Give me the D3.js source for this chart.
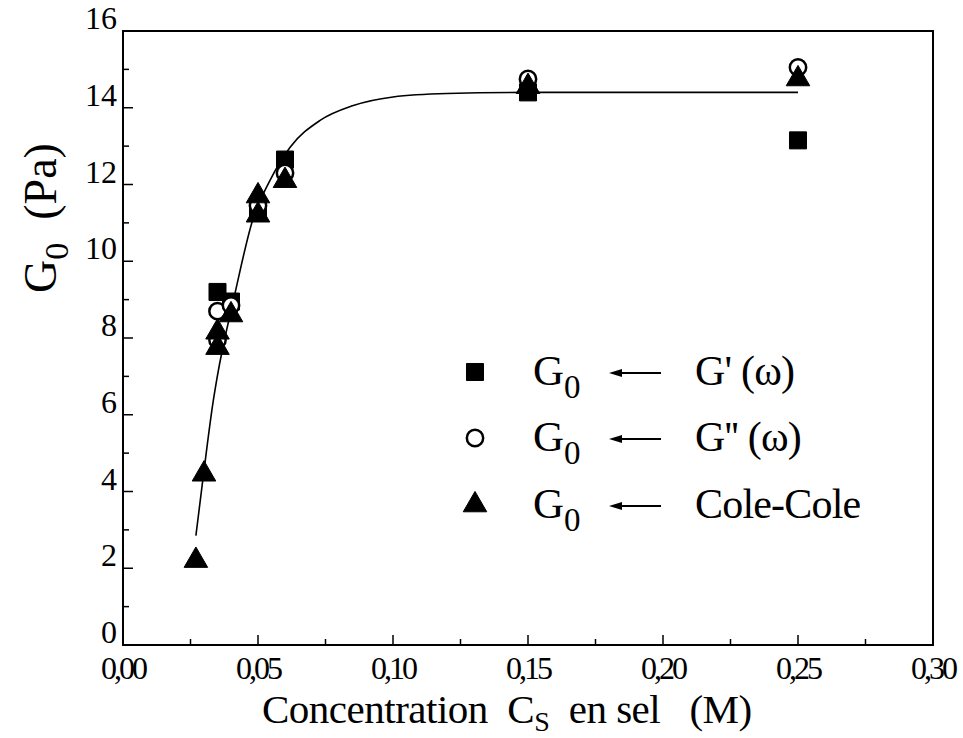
<!DOCTYPE html>
<html><head><meta charset="utf-8">
<script src="https://cdn.jsdelivr.net/npm/d3@7"></script>
<style>body{margin:0;background:#fff}svg{display:block}text{font-family:"Liberation Serif","Times New Roman",serif;fill:#000}</style>
</head><body>
<script>
// Data
const gPrime = [[0.035,9.2],[0.040,8.95],[0.050,11.3],[0.060,12.65],[0.150,14.4],[0.250,13.15]];
const gSecond = [[0.035,8.7],[0.035,7.95],[0.040,8.85],[0.050,11.45],[0.060,12.3],[0.150,14.75],[0.250,15.05]];
const coleCole = [[0.027,2.2],[0.030,4.45],[0.035,8.15],[0.035,7.75],[0.040,8.6],[0.050,11.7],[0.050,11.2],[0.060,12.1],[0.150,14.55],[0.250,14.75]];
const fitCurve = [[0.027,2.85],[0.030,4.55],[0.0334,6.35],[0.0348,6.95],[0.0415,9.17],[0.048,11.07],[0.0544,12.1],[0.0619,12.97],[0.073,13.67],[0.085,14.05],[0.1,14.28],[0.12,14.37],[0.15,14.4],[0.2,14.4],[0.25,14.4]];
const xTicks = [0,0.05,0.10,0.15,0.20,0.25,0.30];
const xTickLabels = ["0,00","0,05","0,10","0,15","0,20","0,25","0,30"];
const yTicks = [0,2,4,6,8,10,12,14,16];
const legendLabels = ["G' (ω)","G'' (ω)","Cole-Cole"];

const W=963,H=738;
const m={l:123,r:933,t:31,b:645};
const svg=d3.select("body").append("svg").attr("width",W).attr("height",H);
const x=d3.scaleLinear().domain([0,0.30]).range([m.l,m.r]);
const y=d3.scaleLinear().domain([0,16]).range([m.b,m.t]);

// frame
svg.append("rect").attr("x",m.l).attr("y",m.t).attr("width",m.r-m.l).attr("height",m.b-m.t)
  .attr("fill","none").attr("stroke","#000").attr("stroke-width",2);

// x axis ticks (inward)
const gx=svg.append("g");
d3.range(0,0.3001,0.025).forEach((v,i)=>{
  const major=i%2===0;
  gx.append("line").attr("x1",x(v)).attr("x2",x(v)).attr("y1",m.b).attr("y2",m.b-(major?10:6)).attr("stroke","#000").attr("stroke-width",1.5);
});
xTicks.forEach((v,i)=>{
  gx.append("text").attr("x",x(v)).attr("y",m.b+34).attr("text-anchor","middle").attr("font-size",32)
    .attr("letter-spacing",-3).text(xTickLabels[i]);
});
// y axis ticks
const gy=svg.append("g");
d3.range(0,16.01,1).forEach((v,i)=>{
  const major=i%2===0;
  gy.append("line").attr("y1",y(v)).attr("y2",y(v)).attr("x1",m.l).attr("x2",m.l+(major?10:6)).attr("stroke","#000").attr("stroke-width",1.5);
});
yTicks.forEach(v=>{
  gy.append("text").attr("x",m.l-6).attr("y",y(v)-2).attr("text-anchor","end").attr("font-size",32).text(v);
});

// axis titles
const xt=svg.append("text").attr("x",262).attr("y",723).attr("font-size",41).attr("letter-spacing",-0.5).attr("xml:space","preserve");
xt.append("tspan").text("Concentration  C");
xt.append("tspan").attr("font-size",28).attr("dy",8).text("S");
xt.append("tspan").attr("dy",-8).text("  en sel   (M)");

const yt=svg.append("text").attr("transform","translate(56,218) rotate(-90)").attr("text-anchor","middle").attr("font-size",46).attr("xml:space","preserve");
yt.append("tspan").text("G");
yt.append("tspan").attr("font-size",34).attr("dy",12).text("0");
yt.append("tspan").attr("dy",-12).text("  (Pa)");

// fit curve
svg.append("path").datum(fitCurve).attr("fill","none").attr("stroke","#000").attr("stroke-width",1.6)
  .attr("d",d3.line().x(d=>x(d[0])).y(d=>y(d[1])).curve(d3.curveMonotoneX));

// markers
const sq=d3.symbol().type(d3.symbolSquare).size(290);
const ci=d3.symbol().type(d3.symbolCircle).size(210);
const tr=d3.symbol().type(d3.symbolTriangle).size(240);
function plot(data,sym,fill,sw){
  svg.append("g").selectAll("path").data(data).join("path")
    .attr("transform",d=>`translate(${x(d[0])},${y(d[1])})`).attr("d",sym)
    .attr("fill",fill).attr("stroke","#000").attr("stroke-width",sw);
}
plot(gPrime,sq,"#000",1);
plot(gSecond,ci,"#fff",2.5);
plot(coleCole,tr,"#000",1);

// legend
const rows=[372,438,505];
const syms=[[sq,"#000",1],[ci,"#fff",2.5],[tr,"#000",1]];
rows.forEach((ry,i)=>{
  svg.append("path").attr("transform",`translate(475,${ry})`).attr("d",syms[i][0])
    .attr("fill",syms[i][1]).attr("stroke","#000").attr("stroke-width",syms[i][2]);
  const t=svg.append("text").attr("x",533).attr("y",ry+13).attr("font-size",43);
  t.append("tspan").text("G");
  t.append("tspan").attr("font-size",33).attr("dy",13).text("0");
  svg.append("line").attr("x1",620).attr("x2",661).attr("y1",ry+1).attr("y2",ry+1).attr("stroke","#000").attr("stroke-width",2);
  svg.append("path").attr("d",`M609,${ry+1} L622,${ry-3} L622,${ry+5} Z`).attr("fill","#000");
  svg.append("text").attr("x",695).attr("y",ry+13).attr("font-size",42).attr("letter-spacing",-0.8).text(legendLabels[i]);
});
</script>
</body></html>
